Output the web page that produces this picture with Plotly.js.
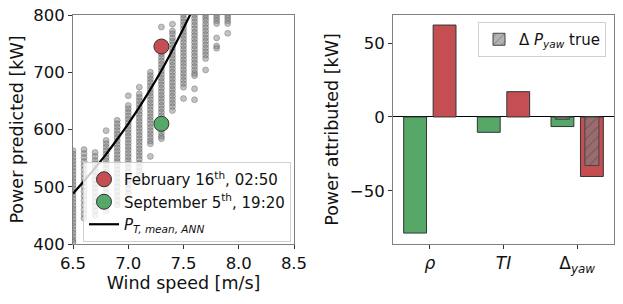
<!DOCTYPE html>
<html><head><meta charset="utf-8">
<script src="https://cdn.plot.ly/plotly-3.0.1.min.js"></script>
<style>html,body{margin:0;padding:0;background:#fff}</style>
</head><body><div id="chart" style="width:623px;height:304px"></div>
<script>
// ---- scatter columns (wind speed -> predicted power samples) ----
const windCols = [6.5, 6.6, 6.7, 6.8, 6.9, 7.0, 7.1, 7.2, 7.3, 7.4, 7.5, 7.6, 7.7, 7.8, 7.9];
const p65 = [563,557,551,545,539,533,527,521,515,509,503,497,491,485,479,473,467,461,455,449,443,437,431,425,419,413,407,403];
const p66 = [565,558,551,544,537,530,522,515,508,500,492,484,476,468,460,452,445];
const p67 = [560,553,546,540,533,526,519,512,505,498,490,482,474,466,458,450];
const p68 = [598,581,575,569,563,557,551,545,539,532,525,518,511,504,497,490,482,474,466,458];
const p69 = [616,610,604,598,592,586,580,574,568,562,556,550,544,537,530,523,516,508,500,492,484,476,468];
const p70 = [659,642,636,630,624,618,612,606,600,594,588,582,576,570,564,558,552,546,540,533,526,519,512,504,496,488];
const p71 = [674,662,656,650,644,638,632,626,620,614,608,602,596,590,584,578,572,566,560,554,548,541,534,527,520,512];
const p72 = [700,694,688,682,676,670,664,658,652,646,640,634,628,622,616,610,604,598,592,586,580,575,553];
const p73 = [779,732,726,720,714,708,702,696,690,684,678,672,666,660,654,648,642,636,630,624,618,612,606,600,594,588,584];
const p74 = [784,772,767,760,754,748,742,736,730,724,718,712,706,700,694,688,682,676,670,664,658,652,646,640,633];
const p75 = [800,794,788,782,776,770,764,758,752,746,740,734,728,722,716,710,704,698,692,686,680,674,654];
const p76 = [800,794,788,782,776,770,764,758,752,746,740,734,728,722,716,710,704,698,694,671,652];
const p77 = [800,795,790,784,778,772,766,760,754,748,742,736,730,724,704];
const p78 = [800,795,790,785,760,746,742];
const p79 = [800,795,790,785,768];
const powerCols = [p65,p66,p67,p68,p69,p70,p71,p72,p73,p74,p75,p76,p77,p78,p79];

// ---- highlighted samples ----
const febWind = [7.3], febPower = [745];
const sepWind = [7.3], sepPower = [610];

// ---- mean ANN power curve ----
const curveWind  = [6.5, 6.6, 6.7, 6.8, 6.9, 7.0, 7.1, 7.2, 7.3, 7.4, 7.5, 7.6];
const curvePower = [488, 510, 533, 557, 583, 610, 639, 670, 703, 739, 777, 816];

// ---- attribution bars ----
const features = ['<i>ρ</i>', '<i>TI</i>', 'Δ<sub><i>yaw</i></sub>'];
const febAttr = [62.2, 17.1, -40.3];
const sepAttr = [-78.6, -10.4, -6.5];
const febTrue = [null, null, -32.9];
const sepTrue = [null, null, -1.6];

const scX = [], scY = [];
windCols.forEach((w, i) => powerCols[i].forEach(p => { scX.push(w); scY.push(p); }));

const RED = '#C44E52', GREEN = '#55A868';
const FONT = 'DejaVu Sans, Arial, sans-serif';

const hatch = {shape: '/', fillmode: 'overlay', fgcolor: '#444', size: 7, solidity: 0.15};

const traces = [
  {x: scX, y: scY, type: 'scatter', mode: 'markers', showlegend: false, hoverinfo: 'skip',
   marker: {size: 6, color: 'rgba(120,120,120,0.45)', line: {color: 'rgba(70,70,70,0.4)', width: 0.8}},
   xaxis: 'x', yaxis: 'y'},
  {x: curveWind, y: curvePower, type: 'scatter', mode: 'lines', name: '<i>P</i><sub><i>T, mean, ANN</i></sub>',
   line: {color: '#000', width: 2.2, shape: 'spline'}, legend: 'legend', legendrank: 3, xaxis: 'x', yaxis: 'y'},
  {x: febWind, y: febPower, type: 'scatter', mode: 'markers', name: 'February 16<sup>th</sup>, 02:50',
   marker: {size: 15, color: RED, line: {color: '#333', width: 1}}, legend: 'legend', legendrank: 1, xaxis: 'x', yaxis: 'y'},
  {x: sepWind, y: sepPower, type: 'scatter', mode: 'markers', name: 'September 5<sup>th</sup>, 19:20',
   marker: {size: 15, color: GREEN, line: {color: '#333', width: 1}}, legend: 'legend', legendrank: 2, xaxis: 'x', yaxis: 'y'},

  {x: features, y: sepAttr, type: 'bar', width: 0.31, offset: -0.355, showlegend: false,
   marker: {color: GREEN, line: {color: '#333', width: 1}}, xaxis: 'x2', yaxis: 'y2'},
  {x: features, y: febAttr, type: 'bar', width: 0.31, offset: 0.045, showlegend: false,
   marker: {color: RED, line: {color: '#333', width: 1}}, xaxis: 'x2', yaxis: 'y2'},
  {x: features, y: sepTrue, type: 'bar', width: 0.19, offset: -0.295, showlegend: false,
   marker: {color: 'rgba(128,128,128,0.6)', pattern: hatch, line: {color: '#444', width: 1}}, xaxis: 'x2', yaxis: 'y2'},
  {x: features, y: febTrue, type: 'bar', width: 0.19, offset: 0.105, name: 'Δ <i>P</i><sub><i>yaw</i></sub> true',
   legend: 'legend2',
   marker: {color: 'rgba(128,128,128,0.6)', pattern: hatch, line: {color: '#444', width: 1}}, xaxis: 'x2', yaxis: 'y2'}
];

const axBase = {showline: true, mirror: true, linecolor: '#808080', linewidth: 1, ticks: 'outside',
  ticklen: 4, tickcolor: '#333', showgrid: false, zeroline: false, tickfont: {size: 16.5, color: '#111'}};
const yDom = [1 - 244/304, 1 - 15/304];
const TS = 17.5;

const layout = {
  width: 623, height: 304, margin: {l: 0, r: 0, t: 0, b: 0},
  paper_bgcolor: '#fff', plot_bgcolor: '#fff', barmode: 'overlay',
  font: {family: FONT, size: 15, color: '#111'},
  xaxis: Object.assign({}, axBase, {domain: [73/623, 294/623], range: [6.5, 8.5], tick0: 6.5, dtick: 0.5,
    tickformat: '.1f', anchor: 'y', title: {text: 'Wind speed [m/s]', font: {size: TS}, standoff: 3}}),
  yaxis: Object.assign({}, axBase, {domain: yDom, range: [400, 800], dtick: 100, anchor: 'x',
    title: {text: 'Power predicted [kW]', font: {size: TS}, standoff: 5}}),
  xaxis2: Object.assign({}, axBase, {domain: [393/623, 614/623], type: 'category', range: [-0.5, 2.5], anchor: 'y2',
    tickfont: {size: 17, color: '#111'}}),
  yaxis2: Object.assign({}, axBase, {domain: yDom, range: [-86, 69], tickvals: [-50, 0, 50], anchor: 'x2',
    zeroline: true, zerolinecolor: '#000', zerolinewidth: 1,
    title: {text: 'Power attributed [kW]', font: {size: TS}, standoff: 6}}),
  legend: {x: 83/623, y: 1 - 162/304, xanchor: 'left', yanchor: 'top', bgcolor: 'rgba(255,255,255,0.8)',
    bordercolor: '#d0d0d0', borderwidth: 1, font: {size: 15}, traceorder: 'normal'},
  legend2: {x: 478/623, y: 1 - 22/304, xanchor: 'left', yanchor: 'top', bgcolor: 'rgba(255,255,255,0.8)',
    bordercolor: '#d0d0d0', borderwidth: 1, font: {size: 15}}
};

Plotly.newPlot('chart', traces, layout, {staticPlot: true, displayModeBar: false});
</script></body></html>
